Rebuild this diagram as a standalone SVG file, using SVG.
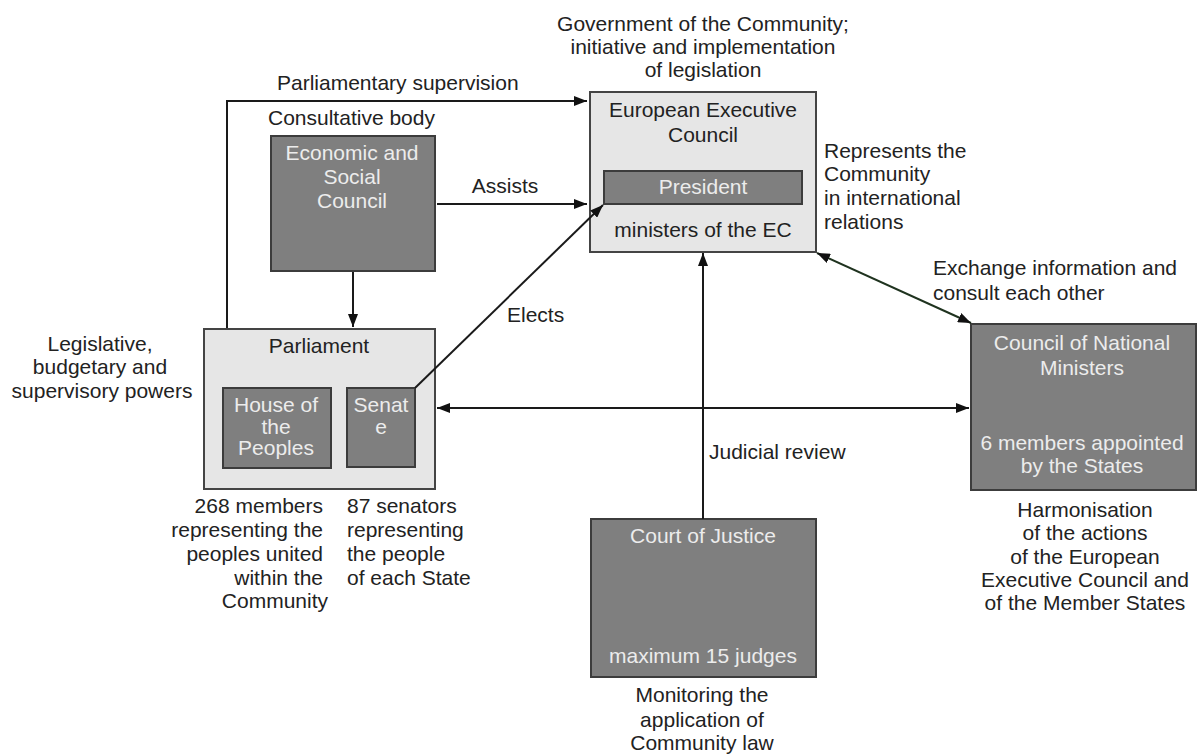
<svg xmlns="http://www.w3.org/2000/svg" width="1198" height="754" viewBox="0 0 1198 754">
<style>
text{font-family:"Liberation Sans",Arial,sans-serif;font-size:21px;fill:#222}
.c{text-anchor:middle}
.r{text-anchor:end}
.w{fill:#ececec}
.dark{fill:#7f7f7f;stroke:#3c3c3c;stroke-width:2}
.light{fill:#e6e6e6;stroke:#444;stroke-width:2}
.ln{fill:none;stroke:#1a1a1a;stroke-width:2}
</style>
<defs>
<marker id="ah" markerUnits="userSpaceOnUse" markerWidth="14" markerHeight="10" refX="13" refY="5" orient="auto-start-reverse">
<path d="M0,0 L13,5 L0,10 z" fill="#111"/>
</marker>
</defs>
<rect width="1198" height="754" fill="#fff"/>

<g id="eec">
<text x="703" y="31" class="c">Government of the Community;</text>
<text x="703" y="54" class="c">initiative and implementation</text>
<text x="703" y="77" class="c">of legislation</text>
<rect class="light" x="590" y="92" width="226" height="160"/>
<text x="703" y="117" class="c">European Executive</text>
<text x="703" y="142" class="c">Council</text>
<text x="703" y="237" class="c">ministers of the EC</text>
<text x="824" y="158">Represents the</text>
<text x="824" y="181">Community</text>
<text x="824" y="205">in international</text>
<text x="824" y="229">relations</text>
</g>

<g id="president">
<rect class="dark" x="604" y="171" width="198" height="33"/>
<text x="703" y="194" class="c w">President</text>
</g>

<g id="esc">
<text x="268" y="125">Consultative body</text>
<rect class="dark" x="271" y="136" width="164" height="135"/>
<text x="352" y="160" class="c w">Economic and</text>
<text x="352" y="184" class="c w">Social</text>
<text x="352" y="208" class="c w">Council</text>
</g>

<g id="parliament">
<text x="100" y="351" class="c">Legislative,</text>
<text x="100" y="374" class="c">budgetary and</text>
<text x="102" y="398" class="c">supervisory powers</text>
<rect class="light" x="204" y="329" width="231" height="160"/>
<text x="319" y="353" class="c">Parliament</text>
</g>

<g id="house">
<rect class="dark" x="223" y="388" width="108" height="80"/>
<text x="276" y="412" class="c w">House of</text>
<text x="276" y="434" class="c w">the</text>
<text x="276" y="455" class="c w">Peoples</text>
<text x="323" y="513" class="r">268 members</text>
<text x="323" y="537" class="r">representing the</text>
<text x="323" y="561" class="r">peoples united</text>
<text x="323" y="585" class="r">within the</text>
<text x="328" y="608" class="r">Community</text>
</g>

<g id="senate">
<rect class="dark" x="347" y="388" width="68" height="79"/>
<text x="381" y="412" class="c w">Senat</text>
<text x="381" y="434" class="c w">e</text>
<text x="347" y="513">87 senators</text>
<text x="347" y="537">representing</text>
<text x="347" y="561">the people</text>
<text x="347" y="585">of each State</text>
</g>

<g id="cnm">
<rect class="dark" x="971" y="324" width="225" height="166"/>
<text x="1082" y="350" class="c w">Council of National</text>
<text x="1082" y="375" class="c w">Ministers</text>
<text x="1082" y="450" class="c w">6 members appointed</text>
<text x="1082" y="473" class="c w">by the States</text>
<text x="1085" y="517" class="c">Harmonisation</text>
<text x="1085" y="540" class="c">of the actions</text>
<text x="1085" y="564" class="c">of the European</text>
<text x="1085" y="587" class="c">Executive Council and</text>
<text x="1085" y="610" class="c">of the Member States</text>
</g>

<g id="court">
<rect class="dark" x="591" y="519" width="225" height="158"/>
<text x="703" y="543" class="c w">Court of Justice</text>
<text x="703" y="663" class="c w">maximum 15 judges</text>
<text x="702" y="702" class="c">Monitoring the</text>
<text x="702" y="727" class="c">application of</text>
<text x="702" y="750" class="c">Community law</text>
</g>

<g id="connectors">
<path class="ln" d="M227 328 V101 H587" marker-end="url(#ah)"/>
<path class="ln" d="M353 272 V327" marker-end="url(#ah)"/>
<path class="ln" d="M437 204 H587" marker-end="url(#ah)"/>
<path class="ln" d="M415 388 L603 205" marker-end="url(#ah)"/>
<path class="ln" d="M703 519 V253" marker-end="url(#ah)"/>
<path class="ln" d="M437 408 H969" marker-start="url(#ah)" marker-end="url(#ah)"/>
<path d="M817 253 L971 323" fill="none" stroke="#1f331f" stroke-width="2" marker-start="url(#ah)" marker-end="url(#ah)"/>
<text x="277" y="90">Parliamentary supervision</text>
<text x="505" y="193" class="c">Assists</text>
<text x="507" y="322">Elects</text>
<text x="709" y="459">Judicial review</text>
<text x="933" y="275">Exchange information and</text>
<text x="933" y="300">consult each other</text>
</g>
</svg>
